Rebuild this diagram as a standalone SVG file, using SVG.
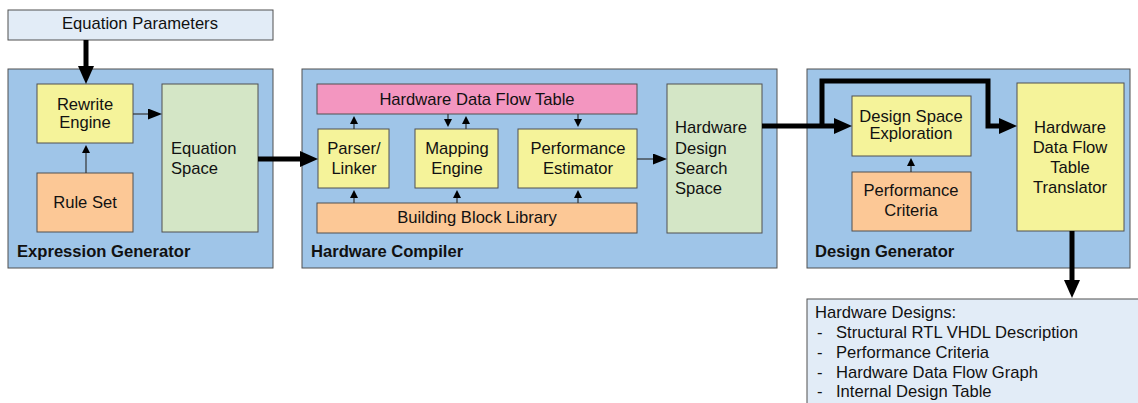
<svg xmlns="http://www.w3.org/2000/svg" width="1138" height="403" viewBox="0 0 1138 403">
<style>
text{font-family:"Liberation Sans",Arial,sans-serif;font-size:16.6px;fill:#111}
.b{font-weight:bold}
.m{text-anchor:middle}
.box{stroke:#505050;stroke-width:1}
.outer{fill:#9FC5E8}
.yel{fill:#F5F39A}
.org{fill:#FCC896}
.grn{fill:#D4E6C6}
.pnk{fill:#F396C0}
.lb{fill:#E2ECF7}
.thick{fill:none;stroke:#000;stroke-width:5}
.thin{fill:none;stroke:#333;stroke-width:1.2}
</style>
<defs>
<marker id="ahT" viewBox="0 0 18 16" refX="4" refY="8" markerWidth="18" markerHeight="16" markerUnits="userSpaceOnUse" orient="auto"><path d="M0,0 L18,8 L0,16 z" fill="#000"/></marker>
<marker id="ahM" viewBox="0 0 14 11" refX="2" refY="5.5" markerWidth="14" markerHeight="11" markerUnits="userSpaceOnUse" orient="auto"><path d="M0,0 L14,5.5 L0,11 z" fill="#000"/></marker>
<marker id="ahS" viewBox="0 0 8 8" refX="1" refY="4" markerWidth="8" markerHeight="8" markerUnits="userSpaceOnUse" orient="auto"><path d="M0,0 L8,4 L0,8 z" fill="#000"/></marker>
</defs>

<g id="equation-parameters">
<rect class="box lb" x="8" y="10" width="265" height="30"/>
<text class="m" x="140" y="29">Equation Parameters</text>
</g>

<g id="expression-generator">
<rect class="box outer" x="8" y="69" width="265" height="199"/>
<text class="b" x="17" y="257">Expression Generator</text>
</g>
<g id="rewrite-engine">
<rect class="box yel" x="37" y="84" width="96" height="59"/>
<text class="m" x="85" y="110">Rewrite</text>
<text class="m" x="85" y="128">Engine</text>
</g>
<g id="rule-set">
<rect class="box org" x="37" y="173" width="96" height="59"/>
<text class="m" x="85" y="208">Rule Set</text>
</g>
<g id="equation-space">
<rect class="box grn" x="162" y="84" width="96" height="148"/>
<text x="171" y="154">Equation</text>
<text x="171" y="174">Space</text>
</g>

<g id="hardware-compiler">
<rect class="box outer" x="302" y="69" width="475" height="199"/>
<text class="b" x="311" y="257">Hardware Compiler</text>
</g>
<g id="hardware-data-flow-table">
<rect class="box pnk" x="317" y="84" width="320" height="30"/>
<text class="m" x="477" y="105">Hardware Data Flow Table</text>
</g>
<g id="parser-linker">
<rect class="box yel" x="318" y="129" width="71" height="59"/>
<text class="m" x="354" y="154">Parser/</text>
<text class="m" x="354" y="174">Linker</text>
</g>
<g id="mapping-engine">
<rect class="box yel" x="415" y="129" width="83" height="59"/>
<text class="m" x="457" y="154">Mapping</text>
<text class="m" x="457" y="174">Engine</text>
</g>
<g id="performance-estimator">
<rect class="box yel" x="518" y="129" width="119" height="59"/>
<text class="m" x="578" y="154">Performance</text>
<text class="m" x="578" y="174">Estimator</text>
</g>
<g id="building-block-library">
<rect class="box org" x="317" y="203" width="320" height="30"/>
<text class="m" x="477" y="223">Building Block Library</text>
</g>
<g id="hardware-design-search-space">
<rect class="box grn" x="667" y="84" width="95" height="149"/>
<text x="675" y="133">Hardware</text>
<text x="675" y="154">Design</text>
<text x="675" y="174">Search</text>
<text x="675" y="194">Space</text>
</g>

<g id="design-generator">
<rect class="box outer" x="807" y="69" width="323" height="199"/>
<text class="b" x="815" y="257">Design Generator</text>
</g>
<g id="design-space-exploration">
<rect class="box yel" x="852" y="96" width="119" height="60"/>
<text class="m" x="911" y="122">Design Space</text>
<text class="m" x="911" y="139">Exploration</text>
</g>
<g id="performance-criteria">
<rect class="box org" x="852" y="172" width="119" height="59"/>
<text class="m" x="911" y="196">Performance</text>
<text class="m" x="911" y="216">Criteria</text>
</g>
<g id="hdf-table-translator">
<rect class="box yel" x="1017" y="83" width="107" height="148"/>
<text class="m" x="1070" y="133">Hardware</text>
<text class="m" x="1070" y="153">Data Flow</text>
<text class="m" x="1070" y="173">Table</text>
<text class="m" x="1070" y="193">Translator</text>
</g>

<g id="hardware-designs">
<rect class="box lb" x="807" y="299" width="340" height="120"/>
<text x="815" y="318">Hardware Designs:</text>
<text x="817" y="338">-</text><text x="836" y="338">Structural RTL VHDL Description</text>
<text x="817" y="358">-</text><text x="836" y="358">Performance Criteria</text>
<text x="817" y="378">-</text><text x="836" y="378">Hardware Data Flow Graph</text>
<text x="817" y="397">-</text><text x="836" y="397">Internal Design Table</text>
</g>

<g id="connectors">
<path class="thick" d="M86,40 V70" marker-end="url(#ahT)"/>
<path class="thick" d="M258,159 H304" marker-end="url(#ahT)"/>
<path class="thick" d="M762,126 H838" marker-end="url(#ahT)"/>
<path class="thick" d="M822,126 V81 H988 V126 H1003" marker-end="url(#ahT)"/>
<path class="thick" d="M1072,231 V284" marker-end="url(#ahT)"/>
<path class="thin" d="M133,114 H150" marker-end="url(#ahM)"/>
<path class="thin" d="M637,159 H655" marker-end="url(#ahM)"/>
<path class="thin" d="M86,173 V152" marker-end="url(#ahS)"/>
<path class="thin" d="M911,172 V165" marker-end="url(#ahS)"/>
<path class="thin" d="M354,129 V123" marker-end="url(#ahS)"/>
<path class="thin" d="M448,114 V120" marker-end="url(#ahS)"/>
<path class="thin" d="M466,129 V123" marker-end="url(#ahS)"/>
<path class="thin" d="M578,114 V120" marker-end="url(#ahS)"/>
<path class="thin" d="M354,203 V197" marker-end="url(#ahS)"/>
<path class="thin" d="M457,203 V197" marker-end="url(#ahS)"/>
<path class="thin" d="M578,203 V197" marker-end="url(#ahS)"/>
</g>
</svg>
